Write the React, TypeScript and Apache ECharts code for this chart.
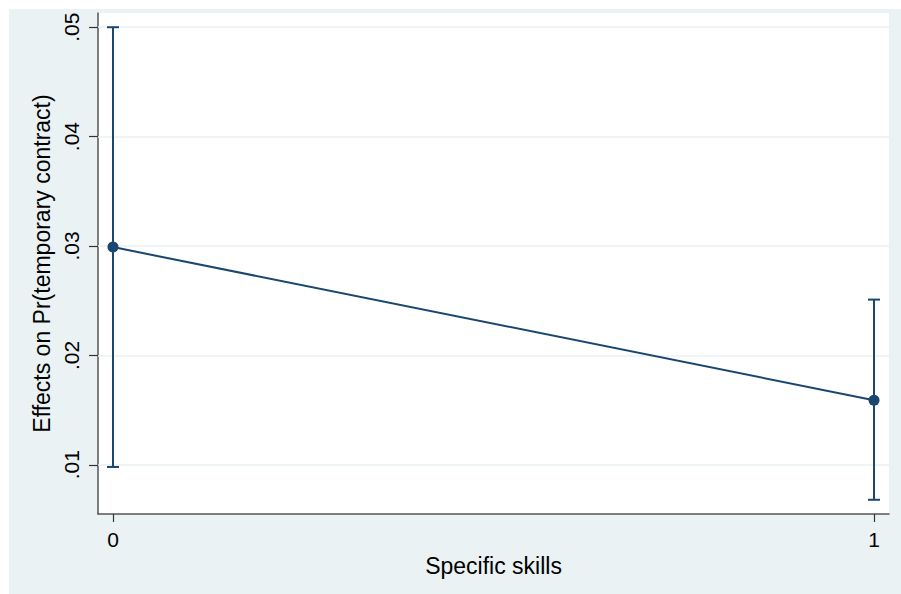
import React, { useEffect, useRef } from "react";
import * as echarts from "echarts";

const xValues = [0, 1];
const estimates = [0.0299, 0.0159];
const lowerCI = [0.0098, 0.0068];
const upperCI = [0.05, 0.0251];
const yTicks = [0.01, 0.02, 0.03, 0.04, 0.05];
const xTicks = [0, 1];
const xTitle = "Specific skills";
const yTitle = "Effects on Pr(temporary contract)";

const NAVY = "#1a476f";
const BG = "#eaf2f3";
const FONT = "'Liberation Sans', Arial, sans-serif";

export default function App() {
  const ref = useRef<HTMLDivElement>(null);
  useEffect(() => {
    if (!ref.current) return;
    const chart = echarts.init(ref.current, undefined, { renderer: "svg" });
    const lineData = xValues.map((x, i) => [x, estimates[i]]);
    const ciData = xValues.map((x, i) => [x, lowerCI[i], upperCI[i]]);
    chart.setOption({
      animation: false,
      backgroundColor: BG,
      textStyle: { fontFamily: FONT },
      grid: {
        left: 89,
        top: 4,
        right: 12,
        bottom: 80,
        show: true,
        backgroundColor: "#ffffff",
        borderWidth: 0,
        containLabel: false,
      },
      xAxis: {
        type: "value",
        min: -0.0197,
        max: 1.0197,
        name: xTitle,
        nameLocation: "middle",
        nameGap: 34,
        nameTextStyle: { fontSize: 23, color: "#000", fontFamily: FONT },
        axisLine: { show: true, onZero: false, lineStyle: { color: "#555", width: 1.5 } },
        axisTick: { show: true, length: 8, customValues: xTicks, lineStyle: { color: "#333", width: 1.2 } },
        axisLabel: {
          customValues: xTicks,
          fontSize: 21,
          color: "#000",
          margin: 15,
          fontFamily: FONT,
        },
        splitLine: { show: false },
      },
      yAxis: {
        type: "value",
        min: 0.0055,
        max: 0.0513,
        name: yTitle,
        nameLocation: "middle",
        nameRotate: 90,
        nameGap: 40,
        nameTextStyle: { fontSize: 23, color: "#000", fontFamily: FONT },
        axisLine: { show: true, onZero: false, lineStyle: { color: "#555", width: 1.5 } },
        axisTick: { show: true, length: 9, customValues: yTicks, lineStyle: { color: "#333", width: 1.2 } },
        axisLabel: {
          customValues: yTicks,
          rotate: 90,
          fontSize: 21,
          color: "#000",
          margin: 16,
          fontFamily: FONT,
          formatter: (v: number) => v.toFixed(2).replace(/^0/, ""),
        },
        splitLine: { show: false },
      },
      series: [
        {
          type: "line",
          data: [],
          silent: true,
          z: 1,
          markLine: {
            silent: true,
            z: 1,
            symbol: "none",
            label: { show: false },
            lineStyle: { color: BG, width: 1.5, type: "solid" },
            data: yTicks.map((v) => ({ yAxis: v })),
          },
        },
        {
          type: "custom",
          z: 10,
          data: ciData,
          renderItem: (params: any, api: any) => {
            const x = api.value(0);
            const lo = api.value(1);
            const hi = api.value(2);
            const pLo = api.coord([x, lo]);
            const pHi = api.coord([x, hi]);
            const w = 6;
            const style = { stroke: NAVY, lineWidth: 2 };
            return {
              type: "group",
              children: [
                { type: "line", shape: { x1: pLo[0], y1: pLo[1], x2: pHi[0], y2: pHi[1] }, style },
                { type: "line", shape: { x1: pHi[0] - w, y1: pHi[1], x2: pHi[0] + w, y2: pHi[1] }, style },
                { type: "line", shape: { x1: pLo[0] - w, y1: pLo[1], x2: pLo[0] + w, y2: pLo[1] }, style },
              ],
            };
          },
        },
        {
          type: "line",
          z: 11,
          data: lineData,
          symbol: "circle",
          symbolSize: 11,
          lineStyle: { color: NAVY, width: 2 },
          itemStyle: { color: NAVY },
        },
      ],
    });
    return () => chart.dispose();
  }, []);
  return (
    <div
      ref={ref}
      style={{ position: "absolute", left: 9, top: 9, width: 892, height: 585 }}
    />
  );
}
